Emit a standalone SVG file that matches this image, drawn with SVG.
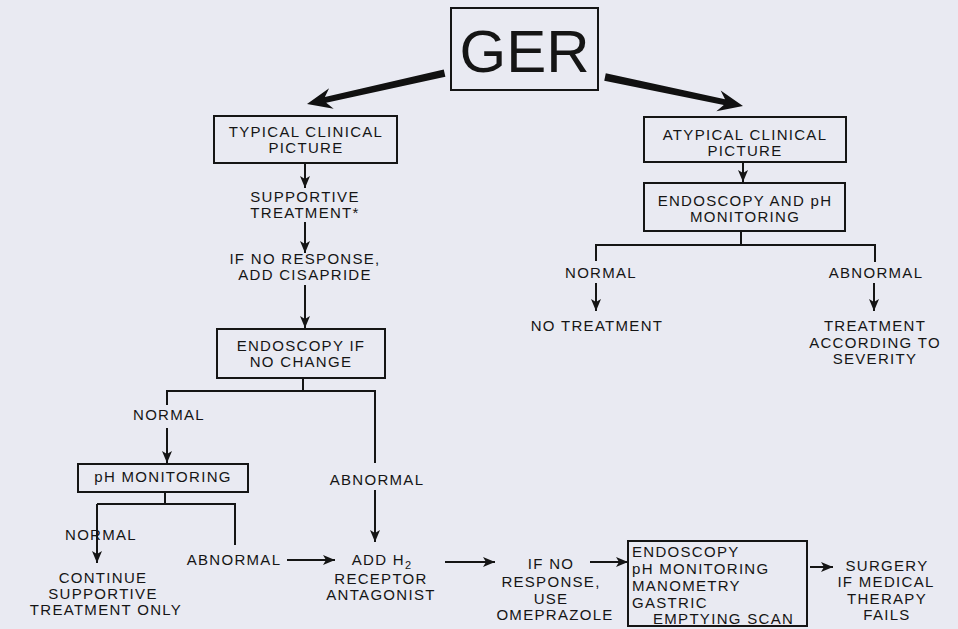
<svg xmlns="http://www.w3.org/2000/svg" width="958" height="629" viewBox="0 0 958 629">
<defs>
<marker id="ah" markerUnits="userSpaceOnUse" markerWidth="12" markerHeight="10" refX="12" refY="5" orient="auto">
<path d="M0,0 L12,5 L0,10 L3,5 z" fill="#151515"/>
</marker>
</defs>
<style>
text{font-family:"Liberation Sans",Arial,sans-serif;font-size:15px;letter-spacing:1.3px;fill:#151515}
.c{text-anchor:middle}
.box{fill:none;stroke:#151515;stroke-width:2}
.ln{fill:none;stroke:#151515;stroke-width:2}
.ar{fill:none;stroke:#151515;stroke-width:2;marker-end:url(#ah)}
.big{fill:#111}
</style>
<rect x="0" y="0" width="958" height="629" fill="#e9eaf2"/>

<g id="ger">
<rect class="box" x="451" y="8" width="147" height="82"/>
<text class="c" x="524.5" y="72" style="font-size:60px;letter-spacing:0">GER</text>
</g>

<g id="typical">
<rect class="box" x="214" y="116" width="183" height="47"/>
<text class="c" x="306" y="137">TYPICAL CLINICAL</text>
<text class="c" x="306" y="153">PICTURE</text>
</g>
<g id="supportive">
<text class="c" x="305" y="202">SUPPORTIVE</text>
<text class="c" x="305" y="218">TREATMENT*</text>
</g>
<g id="cisapride">
<text class="c" x="305" y="264">IF NO RESPONSE,</text>
<text class="c" x="305" y="280">ADD CISAPRIDE</text>
</g>
<g id="endo1">
<rect class="box" x="217" y="329" width="168" height="49"/>
<text class="c" x="301" y="351">ENDOSCOPY IF</text>
<text class="c" x="301" y="367">NO CHANGE</text>
</g>
<g id="normal1"><text class="c" x="169" y="420">NORMAL</text></g>
<g id="abnormal1"><text class="c" x="377" y="485">ABNORMAL</text></g>
<g id="ph">
<rect class="box" x="78" y="464" width="170" height="28"/>
<text class="c" x="163" y="482">pH MONITORING</text>
</g>
<g id="normal2"><text class="c" x="101" y="540">NORMAL</text></g>
<g id="continue">
<text class="c" x="103" y="583">CONTINUE</text>
<text class="c" x="103" y="599">SUPPORTIVE</text>
<text class="c" x="106" y="615">TREATMENT ONLY</text>
</g>
<g id="abnormal2"><text class="c" x="234" y="565">ABNORMAL</text></g>
<g id="h2">
<text class="c" x="382" y="565">ADD H<tspan style="font-size:11px" dy="4">2</tspan></text>
<text class="c" x="381" y="584">RECEPTOR</text>
<text class="c" x="381" y="600">ANTAGONIST</text>
</g>
<g id="omeprazole">
<text class="c" x="551" y="569">IF NO</text>
<text class="c" x="551" y="587">RESPONSE,</text>
<text class="c" x="551" y="604">USE</text>
<text class="c" x="555" y="620">OMEPRAZOLE</text>
</g>
<g id="workup">
<rect class="box" x="628" y="541" width="179" height="85"/>
<text x="632" y="557">ENDOSCOPY</text>
<text x="632" y="574">pH MONITORING</text>
<text x="632" y="591">MANOMETRY</text>
<text x="632" y="608">GASTRIC</text>
<text x="653" y="624">EMPTYING SCAN</text>
</g>
<g id="surgery">
<text class="c" x="887" y="571">SURGERY</text>
<text class="c" x="886" y="587">IF MEDICAL</text>
<text class="c" x="887" y="604">THERAPY</text>
<text class="c" x="887" y="620">FAILS</text>
</g>

<g id="atypical">
<rect class="box" x="644" y="117" width="202" height="45"/>
<text class="c" x="745" y="140">ATYPICAL CLINICAL</text>
<text class="c" x="745" y="156">PICTURE</text>
</g>
<g id="endo2">
<rect class="box" x="644" y="183" width="201" height="48"/>
<text class="c" x="745" y="206">ENDOSCOPY AND pH</text>
<text class="c" x="745" y="222">MONITORING</text>
</g>
<g id="normal3"><text class="c" x="601" y="278">NORMAL</text></g>
<g id="notreat"><text class="c" x="597" y="331">NO TREATMENT</text></g>
<g id="abnormal3"><text class="c" x="876" y="278">ABNORMAL</text></g>
<g id="severity">
<text class="c" x="875" y="331">TREATMENT</text>
<text class="c" x="875" y="348">ACCORDING TO</text>
<text class="c" x="875" y="364">SEVERITY</text>
</g>

<g id="connectors">
<g transform="translate(307,104) rotate(-12.66)">
<polygon class="big" points="0,0 25,-10.5 19,-3 141,-3.8 141,3.8 19,3 25,10.5"/>
</g>
<g transform="translate(743,106) rotate(191.87)">
<polygon class="big" points="0,0 25,-10.5 19,-3 141,-3.8 141,3.8 19,3 25,10.5"/>
</g>
<line class="ar" x1="305" y1="163" x2="305" y2="188"/>
<line class="ar" x1="305" y1="222" x2="305" y2="253"/>
<line class="ar" x1="305" y1="285" x2="305" y2="328"/>
<polyline class="ln" points="303,378 303,391"/>
<polyline class="ln" points="167,405 167,391 375,391 375,463"/>
<line class="ar" x1="167" y1="428" x2="167" y2="463"/>
<line class="ar" x1="375" y1="490" x2="375" y2="542"/>
<polyline class="ln" points="165,492 165,504"/>
<polyline class="ln" points="235,545 235,504 97,504"/>
<line class="ar" x1="97" y1="504" x2="97" y2="563"/>
<line class="ar" x1="287" y1="560" x2="335" y2="560"/>
<line class="ar" x1="445" y1="562" x2="495" y2="562"/>
<line class="ar" x1="590" y1="562" x2="628" y2="562"/>
<line class="ar" x1="810" y1="567" x2="833" y2="567"/>
<line class="ar" x1="743" y1="162" x2="743" y2="182"/>
<polyline class="ln" points="741,231 741,245"/>
<polyline class="ln" points="596,261 596,245 875,245 875,262"/>
<line class="ar" x1="596" y1="283" x2="596" y2="311"/>
<line class="ar" x1="874" y1="283" x2="874" y2="311"/>
</g>
</svg>
